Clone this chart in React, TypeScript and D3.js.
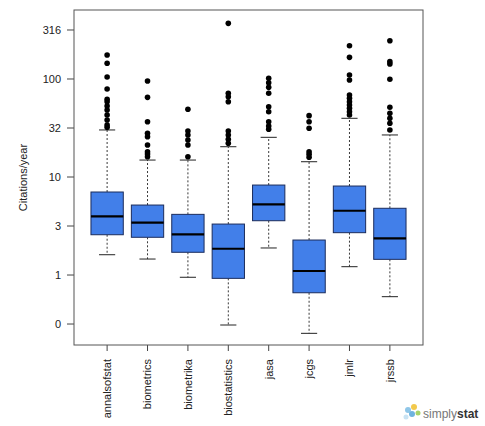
import React from "react";
import * as d3 from "d3";

// Journals (x categories)
const journals = ["annalsofstat", "biometrics", "biometrika", "biostatistics", "jasa", "jcgs", "jmlr", "jrssb"];

// Box statistics in log10(citations/year)
const lowerWhisker = [0.207, 0.163, -0.023, -0.51, 0.276, -0.595, 0.085, -0.221];
const q1 = [0.411, 0.385, 0.232, -0.034, 0.554, -0.181, 0.432, 0.16];
const median = [0.599, 0.534, 0.415, 0.268, 0.721, 0.041, 0.656, 0.374];
const q3 = [0.847, 0.714, 0.619, 0.52, 0.918, 0.357, 0.908, 0.681];
const upperWhisker = [1.48, 1.173, 1.173, 1.309, 1.405, 1.156, 1.599, 1.429];

// Outliers in log10(citations/year)
const outliersAnnals = [2.245, 2.16, 2.02, 1.898, 1.793, 1.768, 1.724, 1.684, 1.633, 1.582, 1.531, 1.507];
const outliersBiometrics = [1.98, 1.813, 1.564, 1.446, 1.411, 1.327, 1.258, 1.235, 1.207];
const outliersBiometrika = [1.691, 1.469, 1.429, 1.378, 1.327, 1.207];
const outliersBiostatistics = [2.568, 1.854, 1.819, 1.768, 1.469, 1.429, 1.385, 1.344];
const outliersJasa = [2.007, 1.962, 1.915, 1.854, 1.717, 1.666, 1.564, 1.52, 1.487];
const outliersJcgs = [1.626, 1.564, 1.497, 1.258, 1.232, 1.201];
const outliersJmlr = [2.34, 2.221, 2.041, 1.99, 1.837, 1.803, 1.768, 1.735, 1.701, 1.666, 1.633];
const outliersJrssb = [2.391, 2.177, 2.153, 1.997, 1.711, 1.65, 1.599, 1.548, 1.48];
const outliers = [outliersAnnals, outliersBiometrics, outliersBiometrika, outliersBiostatistics, outliersJasa, outliersJcgs, outliersJmlr, outliersJrssb];

// Y-axis ticks (log10 positions) and their labels
const yTicks = [-0.5, 0, 0.5, 1, 1.5, 2, 2.5];
const yTickLabels = ["0", "1", "3", "10", "32", "100", "316"];

export default function App() {
  const W = 485, H = 426;
  const left = 74, right = 423, top = 10, bottom = 345;
  const x = d3.scaleLinear().domain([0.18, 8.82]).range([left, right]);
  const y = d3.scaleLinear().domain([-0.714, 2.704]).range([bottom, top]);
  const boxW = x(0.8) - x(0);
  const font = "'Liberation Sans', Arial, Helvetica, sans-serif";
  const boxFill = "#427fe9";
  const boxStroke = "#1b2c5c";

  return (
    <svg width={W} height={H} style={{ position: "absolute", left: 0, top: 0 }} fontFamily={font}>
      <rect width={W} height={H} fill="#fff" />
      {/* y axis */}
      {yTicks.map((t, i) => (
        <g key={t}>
          <line x1={67} x2={left} y1={y(t)} y2={y(t)} stroke="#444" strokeWidth={1} />
          <text x={61} y={y(t)} dy="0.35em" textAnchor="end" fontSize={11} fill="#222">{yTickLabels[i]}</text>
        </g>
      ))}
      <text transform={`translate(27,${(top + bottom) / 2}) rotate(-90)`} textAnchor="middle" fontSize={11} fill="#222">Citations/year</text>
      {/* x axis */}
      {journals.map((j, i) => (
        <g key={j}>
          <line x1={x(i + 1)} x2={x(i + 1)} y1={bottom} y2={bottom + 6} stroke="#444" />
          <text transform={`translate(${x(i + 1)},${bottom + 14}) rotate(-90)`} dy="0.35em" textAnchor="end" fontSize={11} fill="#222">{j}</text>
        </g>
      ))}
      {/* boxes */}
      {journals.map((j, i) => {
        const cx = x(i + 1);
        return (
          <g key={j}>
            <line x1={cx} x2={cx} y1={y(q3[i])} y2={y(upperWhisker[i])} stroke="#222" strokeWidth={0.9} strokeDasharray="2,2" />
            <line x1={cx} x2={cx} y1={y(q1[i])} y2={y(lowerWhisker[i])} stroke="#222" strokeWidth={0.9} strokeDasharray="2,2" />
            <line x1={cx - boxW / 4} x2={cx + boxW / 4} y1={y(upperWhisker[i])} y2={y(upperWhisker[i])} stroke="#222" strokeWidth={1} />
            <line x1={cx - boxW / 4} x2={cx + boxW / 4} y1={y(lowerWhisker[i])} y2={y(lowerWhisker[i])} stroke="#222" strokeWidth={1} />
            <rect x={cx - boxW / 2} y={y(q3[i])} width={boxW} height={y(q1[i]) - y(q3[i])} fill={boxFill} stroke={boxStroke} strokeWidth={1} />
            <line x1={cx - boxW / 2} x2={cx + boxW / 2} y1={y(median[i])} y2={y(median[i])} stroke="#000" strokeWidth={2.2} />
            {outliers[i].map((o, k) => (
              <circle key={k} cx={cx} cy={y(o)} r={2.8} fill="#000" />
            ))}
          </g>
        );
      })}
      {/* plot frame */}
      <rect x={left} y={top} width={right - left} height={bottom - top} fill="none" stroke="#555" strokeWidth={1} />
      {/* logo */}
      <g>
        <circle cx={408} cy={410} r={3} fill="#8fc6e8" />
        <circle cx={414} cy={407} r={3} fill="#f2c94c" />
        <circle cx={412} cy={414} r={3} fill="#6fb3de" />
        <circle cx={418} cy={413} r={2.5} fill="#a7d36b" />
        <circle cx={406} cy={417} r={2.5} fill="#c9e3f3" />
        <text x={423} y={418} fontSize={12} fill="#777">simply<tspan fontWeight="bold" fill="#333">stat</tspan></text>
      </g>
    </svg>
  );
}
